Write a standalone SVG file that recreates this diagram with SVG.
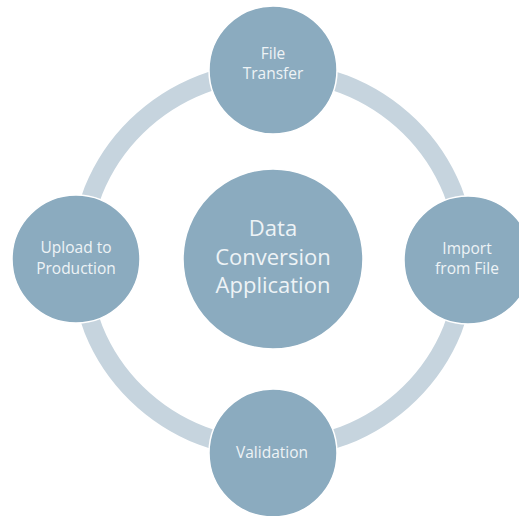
<svg xmlns="http://www.w3.org/2000/svg" width="519" height="516" viewBox="0 0 519 516">
<style>
.node{fill:#8BABBF;stroke:#ffffff;stroke-width:1.5}
.lbl{font-family:"Open Sans","Liberation Sans",sans-serif;fill:#EEF3F6;text-anchor:middle;font-size:15.5px}
.big{font-size:22px}
</style>
<rect width="519" height="516" fill="#ffffff"/>
<g id="connectors">
<ellipse cx="273" cy="260" rx="193" ry="189" fill="none" stroke="#C6D4DE" stroke-width="19"/>
</g>
<g id="center">
<circle class="node" cx="273" cy="259" r="90"/>
<text class="lbl big" x="273" y="236">Data</text>
<text class="lbl big" x="273" y="265">Conversion</text>
<text class="lbl big" x="273" y="293">Application</text>
</g>
<g id="file-transfer">
<circle class="node" cx="273" cy="70" r="64"/>
<text class="lbl" x="273" y="59">File</text>
<text class="lbl" x="273" y="79">Transfer</text>
</g>
<g id="import-from-file">
<circle class="node" cx="468" cy="260" r="64"/>
<text class="lbl" x="467" y="254">Import</text>
<text class="lbl" x="467" y="274">from File</text>
</g>
<g id="validation">
<circle class="node" cx="273" cy="453" r="64"/>
<text class="lbl" x="272" y="458">Validation</text>
</g>
<g id="upload-to-production">
<circle class="node" cx="76" cy="259" r="64"/>
<text class="lbl" x="76" y="253">Upload to</text>
<text class="lbl" x="76" y="274">Production</text>
</g>
</svg>
